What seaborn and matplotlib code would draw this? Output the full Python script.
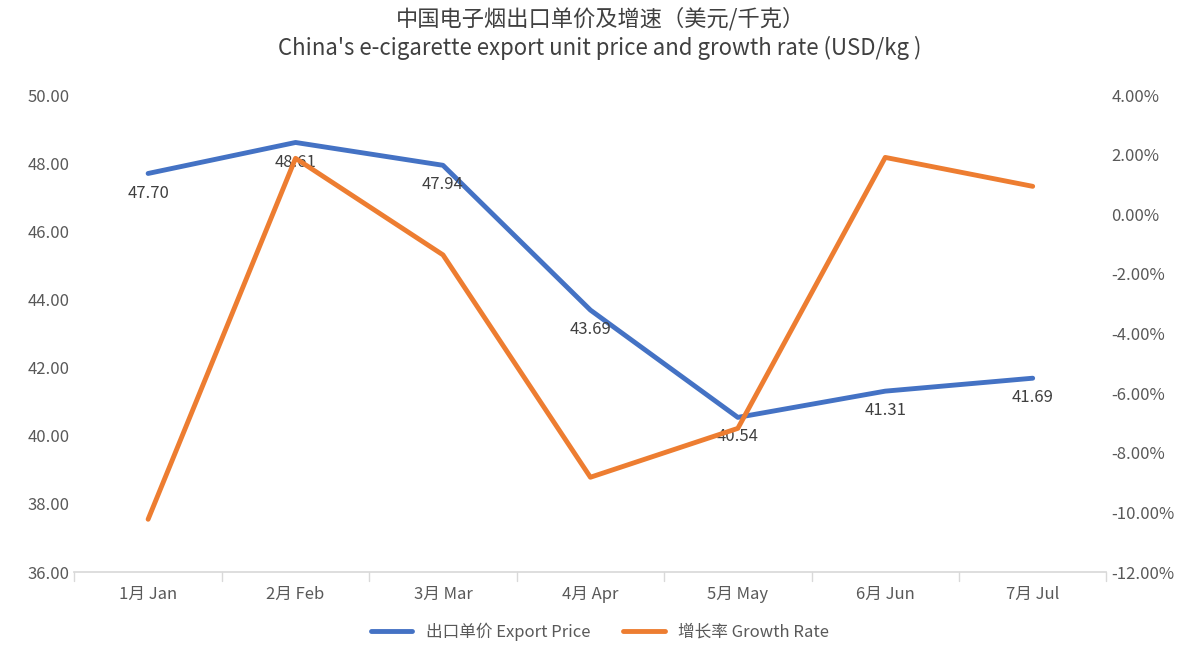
import matplotlib
matplotlib.use("Agg")
import matplotlib.pyplot as plt
import seaborn as sns
import pandas as pd
from matplotlib.ticker import FuncFormatter

months = ["1月 Jan", "2月 Feb", "3月 Mar", "4月 Apr", "5月 May", "6月 Jun", "7月 Jul"]
price = [47.70, 48.61, 47.94, 43.69, 40.54, 41.31, 41.69]
growth = [-10.23, 1.88, -1.36, -8.82, -7.18, 1.91, 0.94]

sns.set_theme(style="white")
plt.rcParams['font.family'] = ['Noto Sans CJK SC', 'DejaVu Sans']

df = pd.DataFrame({"m": range(len(months)), "price": price, "growth": growth})
fig, ax = plt.subplots(figsize=(12, 6.56), dpi=100)
fig.subplots_adjust(left=0.062, right=0.922, top=0.855, bottom=0.128)
ax2 = ax.twinx()
blue, orange = "#4472C4", "#ED7D31"
sns.lineplot(data=df, x="m", y="price", ax=ax, color=blue, lw=3.5, label="出口单价 Export Price", legend=False)
sns.lineplot(data=df, x="m", y="growth", ax=ax2, color=orange, lw=3.5, label="增长率 Growth Rate", legend=False)
ax.set_ylim(36, 50); ax.set_yticks(range(36, 51, 2))
ax2.set_ylim(-12, 4); ax2.set_yticks(range(-12, 5, 2))
ax.yaxis.set_major_formatter(FuncFormatter(lambda v, p: f"{v:.2f}"))
ax2.yaxis.set_major_formatter(FuncFormatter(lambda v, p: f"{v:.2f}%"))
ax.set_xlim(-0.5, len(months) - 0.5)
ax.set_xticks(range(len(months))); ax.set_xticklabels(months)
for i, v in enumerate(price):
    ax.annotate(f"{v:.2f}", (i, v), xytext=(0, -8), textcoords="offset points",
                ha="center", va="top", fontsize=12, color="#404040")
for a in (ax, ax2):
    for s in a.spines.values():
        s.set_visible(False)
    a.tick_params(axis="y", length=0, labelsize=12, labelcolor="#595959")
    a.set_xlabel(""); a.set_ylabel("")
ax.spines["bottom"].set_visible(True); ax.spines["bottom"].set_color("#D9D9D9")
ax.tick_params(axis="x", labelsize=12, labelcolor="#595959", length=0, pad=10)
for b in [i + 0.5 for i in range(-1, len(months))]:
    ax.plot([b, b], [36, 35.75], color="#D9D9D9", lw=1, clip_on=False)
fig.suptitle("中国电子烟出口单价及增速（美元/千克）\nChina's e-cigarette export unit price and growth rate (USD/kg )",
             fontsize=16, color="#404040", y=0.99, linespacing=1.3)
h1, l1 = ax.get_legend_handles_labels(); h2, l2 = ax2.get_legend_handles_labels()
fig.legend(h1 + h2, l1 + l2, loc="lower center", ncol=2, frameon=False, fontsize=12,
           bbox_to_anchor=(0.5, 0.0), handlelength=2.5, labelcolor="#595959")
fig.savefig("out.png")
